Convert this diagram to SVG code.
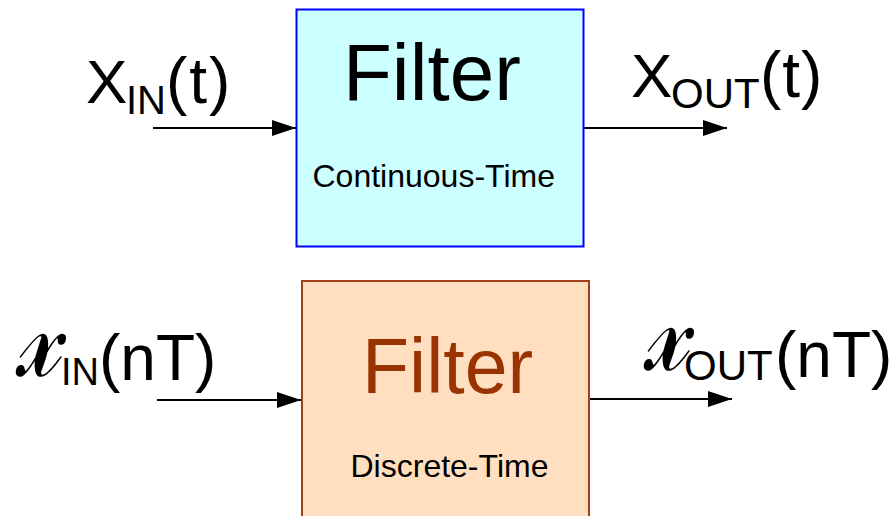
<svg xmlns="http://www.w3.org/2000/svg" width="894" height="516" viewBox="0 0 894 516">
<defs>
<style>
text{font-family:"Liberation Sans",Arial,sans-serif;fill:#000}
.scr{font-family:"DejaVu Serif","Noto Sans",serif;font-style:italic;font-size:122px}
.conn{stroke:#000;stroke-width:2;fill:none}
</style>
<marker id="ah" viewBox="0 0 24 16" refX="24" refY="8" markerWidth="24" markerHeight="16" markerUnits="userSpaceOnUse" orient="auto">
<path d="M0,0 L24,8 L0,16 Z" fill="#000"/>
</marker>
</defs>
<rect width="894" height="516" fill="#fff"/>
<g id="connectors">
<line class="conn" x1="153" y1="128" x2="296" y2="128" marker-end="url(#ah)"/>
<line class="conn" x1="584" y1="128" x2="727" y2="128" marker-end="url(#ah)"/>
<line class="conn" x1="157" y1="400" x2="301" y2="400" marker-end="url(#ah)"/>
<line class="conn" x1="589" y1="399" x2="732" y2="399" marker-end="url(#ah)"/>
</g>
<g id="ct-filter">
<rect x="296.5" y="9.5" width="287" height="237" fill="#ccffff" stroke="#0000ff" stroke-width="2"/>
<text x="343" y="100" font-size="80">Filter</text>
<text x="312.5" y="187" font-size="32">Continuous-Time</text>
</g>
<g id="dt-filter">
<rect x="302" y="281" width="287" height="260" fill="#ffdfc0" stroke="#a0401a" stroke-width="2"/>
<text x="362" y="393" font-size="77" style="fill:#993300">Filter</text>
<text x="350.5" y="477" font-size="32">Discrete-Time</text>
</g>
<g id="labels">
<text y="103" font-size="62"><tspan x="86">X</tspan><tspan x="126" y="114" font-size="40">IN</tspan><tspan x="166" y="103" font-size="64" letter-spacing="2">(t)</tspan></text>
<text y="97" font-size="62"><tspan x="631">X</tspan><tspan x="671" y="108" font-size="42">OUT</tspan><tspan x="760" y="97" font-size="64" letter-spacing="1">(t)</tspan></text>
<text class="scr" transform="translate(16,376) scale(0.76,1)">𝓍</text>
<text y="380" font-size="64"><tspan x="61" y="385" font-size="38">IN</tspan><tspan x="99" y="380">(nT)</tspan></text>
<text class="scr" transform="translate(644,370) scale(0.76,1)">𝓍</text>
<text y="377" font-size="62"><tspan x="684" y="380" font-size="42">OUT</tspan><tspan x="775" y="377" font-size="64">(nT)</tspan></text>
</g>
</svg>
